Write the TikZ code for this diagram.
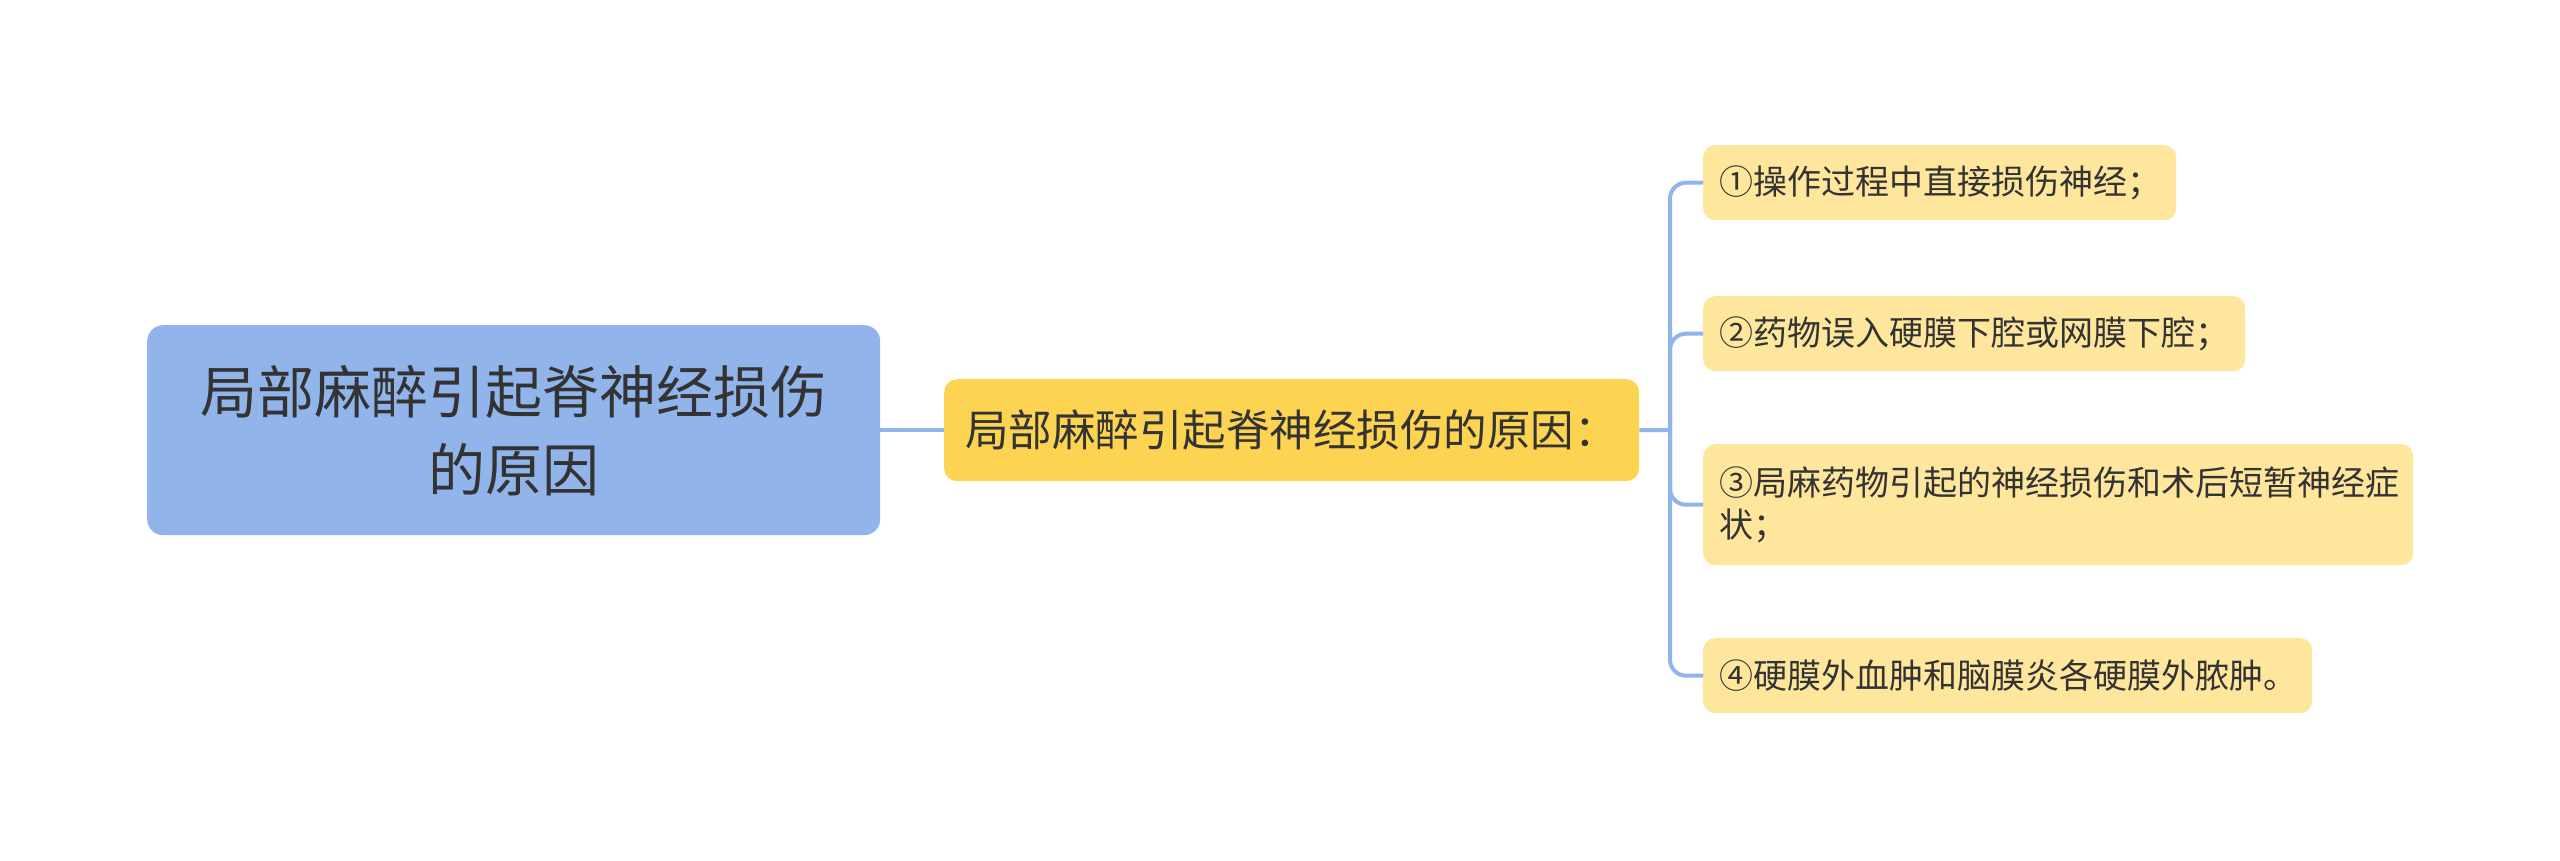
\documentclass[tikz,border=0pt]{standalone}
\usepackage{fontspec}
\setmainfont{Noto Sans CJK SC}
\definecolor{rootblue}{HTML}{91B4EA}
\definecolor{midyellow}{HTML}{FDD451}
\definecolor{leafyellow}{HTML}{FEE69C}
\definecolor{linec}{HTML}{91B4EA}
\definecolor{textc}{HTML}{333333}
\tikzset{
  rootbox/.style={rectangle, rounded corners=16pt, fill=rootblue, text=textc, inner sep=0pt,
    align=center, anchor=north west, font=\fontsize{57}{78}\selectfont},
  midbox/.style={rectangle, rounded corners=13pt, fill=midyellow, text=textc, inner sep=0pt,
    align=center, anchor=north west, font=\fontsize{43.5}{52}\selectfont},
  leafbox/.style={rectangle, rounded corners=12pt, fill=leafyellow, text=textc, inner xsep=16pt, inner ysep=0pt,
    align=left, anchor=north west, font=\fontsize{34}{42}\selectfont},
  conn/.style={draw=linec, line width=4pt},
}
\begin{document}
\begin{tikzpicture}[x=1pt,y=-1pt]
\useasboundingbox (0,0) rectangle (2560,861);
\fill[white] (0,0) rectangle (2560,861);

\node[rootbox, minimum width=733pt, minimum height=210pt] (root) at (147,325) {局部麻醉引起脊神经损伤\\的原因};
\node[midbox, minimum width=695pt, minimum height=102pt] (mid) at (944,379) {局部麻醉引起脊神经损伤的原因：};

\node[leafbox, text width=441pt, minimum height=75pt] (l1) at (1703,145) {①操作过程中直接损伤神经；};
\node[leafbox, text width=510pt, minimum height=75pt] (l2) at (1703,296) {②药物误入硬膜下腔或网膜下腔；};
\node[leafbox, text width=678pt, minimum height=121pt] (l3) at (1703,444) {③局麻药物引起的神经损伤和术后短暂神经症\\状；};
\node[leafbox, text width=577pt, minimum height=75pt] (l4) at (1703,638) {④硬膜外血肿和脑膜炎各硬膜外脓肿。};

\coordinate (tr) at (1670,430);
\draw[conn] (root.east) -- (mid.west);
\draw[conn] (mid.east) -- (tr);
\draw[conn, rounded corners=16pt] (tr) |- (l1.west);
\draw[conn, rounded corners=16pt] (tr) |- (l2.west);
\draw[conn, rounded corners=16pt] (tr) |- (l3.west);
\draw[conn, rounded corners=16pt] (tr) |- (l4.west);
\end{tikzpicture}
\end{document}
